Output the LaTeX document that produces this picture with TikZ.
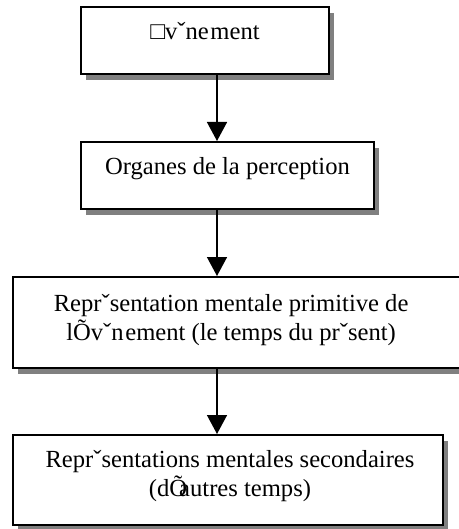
\documentclass[tikz,border=0pt]{standalone}
\usepackage{fontspec}
\setmainfont{Liberation Serif}
\usetikzlibrary{
  arrows.meta,
  positioning,
  shadows
}
\tikzset{
  flowbox/.style={
    draw=black,
    fill=white,
    line width=1pt,
    inner sep=0pt,
    drop shadow={shadow xshift=2.5pt, shadow yshift=-3pt, fill=black!50, opacity=1}
  },
  flowtext/.style={
    align=center,
    inner sep=0pt,
    font=\fontsize{12.3}{14.3}\selectfont
  },
  arrow/.style={
    -{Triangle[width=10pt,length=9.5pt]},
    line width=0.75pt,
    draw=black
  }
}

\begin{document}
\begin{tikzpicture}[x=0.5pt,y=-0.5pt]
\clip (0,0) rectangle (459,529);
\coordinate (spine) at (217,0);
% boxes
\node[flowbox, minimum width=124pt, minimum height=33.5pt] (evt) at (205,40.5) {};
\node[flowbox, minimum width=146.5pt, minimum height=33.5pt] (org) at (227.5,175.5) {};
\node[flowbox, minimum width=228.5pt, minimum height=45.5pt] (prim) at (241.5,322.5) {};
\node[flowbox, minimum width=215pt, minimum height=45pt] (sec) at (228,480) {};
% texts
\node[flowtext, below=8pt of evt.north] (evtlbl) {□vˇne\kern0.8pt ment};
\node[flowtext, below=8pt of org.north] (orglbl) {Organes de la perception};
\node[flowtext, below=9pt of prim.north, xshift=-5.2pt] (primlbl) {Reprˇsentation mentale primitive de\\lÕvˇn\kern0.8pt ement (le temps du prˇsent)};
\node[flowtext, below=8pt of sec.north, xshift=1pt] (seclbl) {Reprˇsentations mentales secondaires\\(dÕ\kern-4pt{}autres temps)};
% arrows
\draw[arrow] (evt.south -| spine) -- (org.north -| spine);
\draw[arrow] (org.south -| spine) -- (prim.north -| spine);
\draw[arrow] (prim.south -| spine) -- (sec.north -| spine);
\end{tikzpicture}
\end{document}
